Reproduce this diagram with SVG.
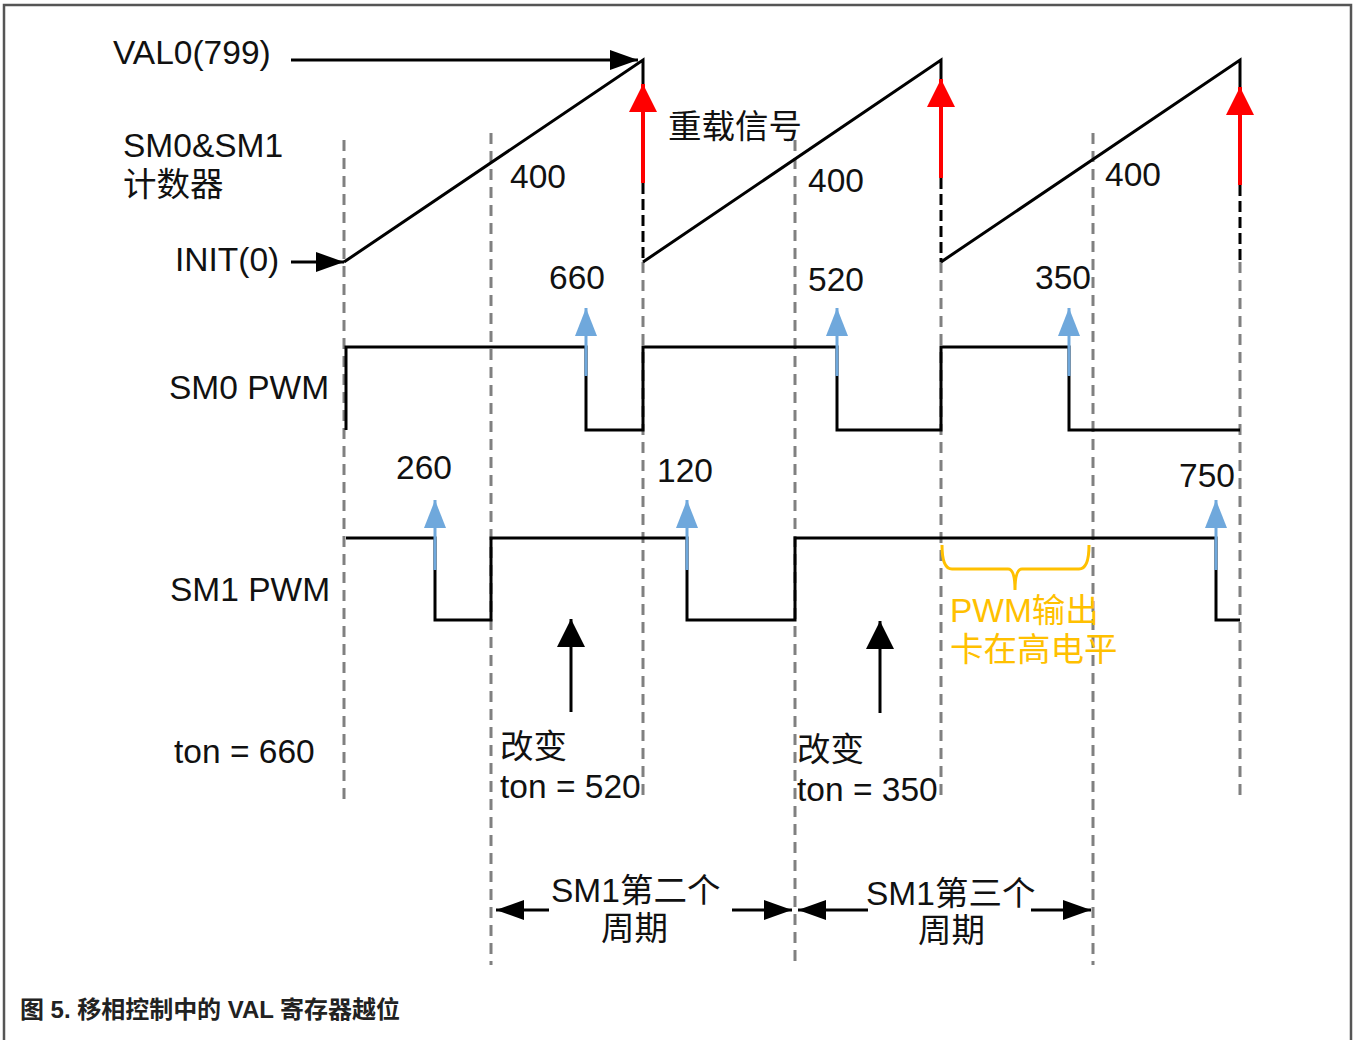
<svg xmlns="http://www.w3.org/2000/svg" width="1354" height="1040" viewBox="0 0 1354 1040">
<style>
text{font-family:"Liberation Sans","Noto Sans CJK SC",sans-serif;font-size:33.5px;fill:#111}
.cap{font-size:24px;font-weight:bold;fill:#222}
.or{fill:#FFC000}
.dash{stroke:#808080;stroke-width:3;stroke-dasharray:11 7;fill:none}
.bl{stroke:#000;stroke-width:3;fill:none}
.red{stroke:#FF0000;stroke-width:4;fill:none}
.blue{stroke:#6FA8DC;stroke-width:3;fill:none}
</style>
<defs>
<marker id="ab" markerUnits="userSpaceOnUse" markerWidth="30" markerHeight="24" refX="28" refY="12" orient="auto"><path d="M0,2 L28,12 L0,22 Z" fill="#000"/></marker>
<marker id="abig" markerUnits="userSpaceOnUse" markerWidth="30" markerHeight="30" refX="28" refY="15" orient="auto"><path d="M0,1 L28,15 L0,29 Z" fill="#000"/></marker>
<marker id="ar" markerUnits="userSpaceOnUse" markerWidth="30" markerHeight="30" refX="28" refY="15" orient="auto"><path d="M0,1 L28,15 L0,29 Z" fill="#FF0000"/></marker>
<marker id="abl" markerUnits="userSpaceOnUse" markerWidth="30" markerHeight="24" refX="28" refY="12" orient="auto"><path d="M0,1 L28,12 L0,23 Z" fill="#6FA8DC"/></marker>
</defs>
<rect x="0" y="0" width="1354" height="1040" fill="#fff"/>
<path d="M4,1040 V5 H1351 V1040" fill="none" stroke="#555" stroke-width="2.5"/>

<g id="gridlines">
<line class="dash" x1="344" y1="140" x2="344" y2="800"/>
<line class="dash" x1="491" y1="133" x2="491" y2="965"/>
<line class="dash" x1="643" y1="262" x2="643" y2="800"/>
<line class="dash" x1="795" y1="140" x2="795" y2="965"/>
<line class="dash" x1="941" y1="262" x2="941" y2="800"/>
<line class="dash" x1="1093" y1="133" x2="1093" y2="965"/>
<line class="dash" x1="1240" y1="262" x2="1240" y2="795"/>
</g>

<g id="counter">
<polyline class="bl" points="344,262 643,60 643,86"/>
<polyline class="bl" points="643,262 941,60 941,82"/>
<polyline class="bl" points="941,262 1240,60 1240,90"/>
<line class="bl" x1="643" y1="183" x2="643" y2="262" stroke-dasharray="11 5"/>
<line class="bl" x1="941" y1="178" x2="941" y2="262" stroke-dasharray="11 5"/>
<line class="bl" x1="1240" y1="185" x2="1240" y2="262" stroke-dasharray="11 5"/>
</g>

<g id="sm0-pwm">
<polyline class="bl" points="346,430 346,347 586,347 586,430 643,430 643,347 837,347 837,430 941,430 941,347 1069,347 1069,430 1240,430"/>
</g>
<g id="sm1-pwm">
<polyline class="bl" points="346,538 435,538 435,620 491,620 491,538 687,538 687,620 795,620 795,538 1216,538 1216,620 1240,620"/>
</g>

<g id="connectors">
<line class="bl" x1="291" y1="60" x2="638" y2="60" marker-end="url(#ab)"/>
<line class="bl" x1="291" y1="262" x2="344" y2="262" marker-end="url(#ab)"/>
<line class="red" x1="643" y1="183" x2="643" y2="84" marker-end="url(#ar)"/>
<line class="red" x1="941" y1="178" x2="941" y2="79" marker-end="url(#ar)"/>
<line class="red" x1="1240" y1="185" x2="1240" y2="87" marker-end="url(#ar)"/>
<line class="blue" x1="586" y1="376" x2="586" y2="308" marker-end="url(#abl)"/>
<line class="blue" x1="837" y1="376" x2="837" y2="308" marker-end="url(#abl)"/>
<line class="blue" x1="1069" y1="376" x2="1069" y2="308" marker-end="url(#abl)"/>
<line class="blue" x1="435" y1="570" x2="435" y2="500" marker-end="url(#abl)"/>
<line class="blue" x1="687" y1="570" x2="687" y2="500" marker-end="url(#abl)"/>
<line class="blue" x1="1216" y1="570" x2="1216" y2="500" marker-end="url(#abl)"/>
<line class="bl" x1="571" y1="712" x2="571" y2="619" marker-end="url(#abig)"/>
<line class="bl" x1="880" y1="713" x2="880" y2="621" marker-end="url(#abig)"/>
<line class="bl" x1="549" y1="910" x2="496" y2="910" marker-end="url(#ab)"/>
<line class="bl" x1="732" y1="910" x2="792" y2="910" marker-end="url(#ab)"/>
<line class="bl" x1="868" y1="910" x2="798" y2="910" marker-end="url(#ab)"/>
<line class="bl" x1="1031" y1="910" x2="1091" y2="910" marker-end="url(#ab)"/>
<path d="M942,545 Q942,569 952,569 L1008,569 Q1015,569 1015,590 Q1015,569 1022,569 L1079,569 Q1089,569 1089,545" fill="none" stroke="#FFC000" stroke-width="3"/>
</g>

<g id="labels">
<text x="113" y="64">VAL0(799)</text>
<text x="123" y="157">SM0&amp;SM1</text>
<text x="123" y="196">计数器</text>
<text x="175" y="271">INIT(0)</text>
<text x="510" y="188">400</text>
<text x="668" y="138">重载信号</text>
<text x="808" y="192">400</text>
<text x="1105" y="186">400</text>
<text x="549" y="289">660</text>
<text x="808" y="291">520</text>
<text x="1035" y="289">350</text>
<text x="169" y="399">SM0 PWM</text>
<text x="396" y="479">260</text>
<text x="657" y="482">120</text>
<text x="1179" y="487">750</text>
<text x="170" y="601">SM1 PWM</text>
<text class="or" x="950" y="622">PWM输出</text>
<text class="or" x="950" y="661">卡在高电平</text>
<text x="174" y="763">ton = 660</text>
<text x="500" y="758">改变</text>
<text x="500" y="798">ton = 520</text>
<text x="797" y="761">改变</text>
<text x="797" y="801">ton = 350</text>
<text x="551" y="902">SM1第二个</text>
<text x="601" y="940">周期</text>
<text x="866" y="905">SM1第三个</text>
<text x="918" y="942">周期</text>
<text class="cap" x="20" y="1018" textLength="380">图 5. 移相控制中的 VAL 寄存器越位</text>
</g>
</svg>
